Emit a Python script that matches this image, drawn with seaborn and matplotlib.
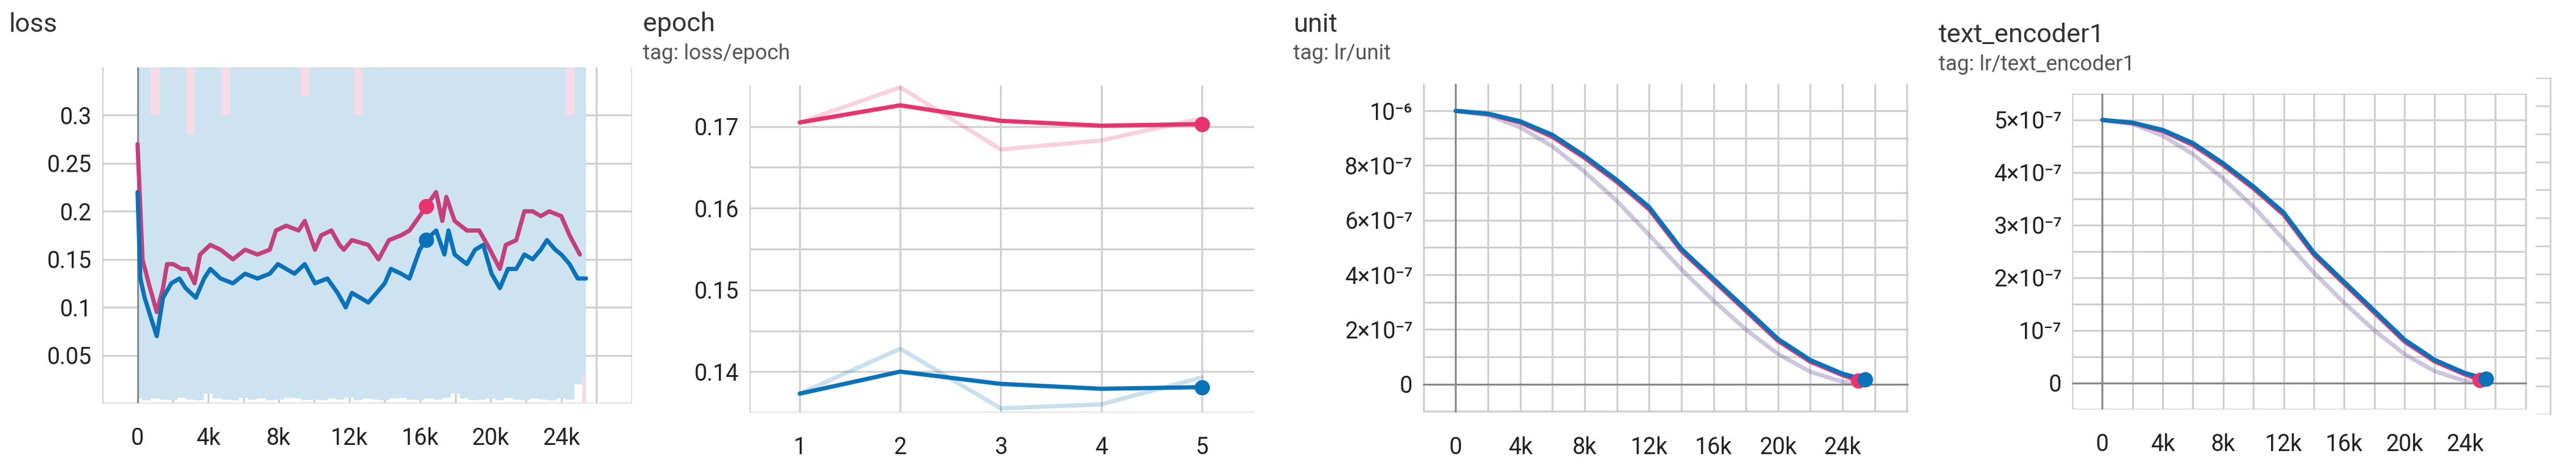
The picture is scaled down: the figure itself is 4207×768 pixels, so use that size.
import matplotlib
matplotlib.use("Agg")
import matplotlib.pyplot as plt
import numpy as np
import seaborn as sns

sns.set_style("white")
plt.rcParams['font.family'] = ['Roboto', 'DejaVu Sans']

PINK = "#e7336e"
BLUE = "#0a72b8"
PINK_LOSS = "#c4407c"
GRID = "#d0d0d0"
ZERO = "#8a8a8a"

# ---- loss panel ----
loss_pink_step = [0, 0.28, 0.63, 1.09, 1.44, 1.67, 2.02, 2.49, 2.84, 3.23, 3.54, 4.12, 4.70, 5.40, 6.09,
                  6.79, 7.49, 7.84, 8.42, 9.12, 9.47, 10.05, 10.40, 10.98, 11.44, 11.68, 12.14, 13.07,
                  13.65, 14.24, 14.93, 15.40, 15.98, 16.33, 16.91, 17.26, 17.49, 17.96, 18.65, 19.35,
                  19.82, 20.52, 20.86, 21.45, 21.91, 22.38, 22.84, 23.31, 24.00, 24.47, 25.05]
loss_pink = [0.27, 0.15, 0.125, 0.095, 0.12, 0.145, 0.145, 0.14, 0.14, 0.125, 0.155, 0.165, 0.16, 0.15,
             0.16, 0.155, 0.16, 0.18, 0.185, 0.18, 0.19, 0.16, 0.175, 0.18, 0.165, 0.16, 0.17, 0.165,
             0.15, 0.17, 0.175, 0.18, 0.195, 0.205, 0.22, 0.19, 0.215, 0.19, 0.18, 0.18, 0.165, 0.14,
             0.165, 0.17, 0.2, 0.2, 0.195, 0.2, 0.195, 0.175, 0.155]
loss_blue_step = [0, 0.16, 0.40, 0.74, 1.09, 1.44, 1.91, 2.37, 2.72, 3.30, 3.77, 4.12, 4.70, 5.40, 6.09,
                  6.79, 7.49, 7.95, 8.42, 8.89, 9.47, 10.05, 10.75, 11.33, 11.79, 12.14, 12.61, 13.07,
                  13.54, 14.00, 14.35, 14.93, 15.40, 15.98, 16.33, 16.91, 17.38, 17.61, 17.96, 18.65,
                  19.12, 19.58, 20.05, 20.52, 20.98, 21.45, 21.91, 22.38, 22.84, 23.19, 23.66, 24.00,
                  24.47, 24.93, 25.40]
loss_blue = [0.22, 0.13, 0.11, 0.09, 0.07, 0.11, 0.125, 0.13, 0.12, 0.11, 0.13, 0.14, 0.13, 0.125, 0.135,
             0.13, 0.135, 0.145, 0.14, 0.135, 0.145, 0.125, 0.13, 0.115, 0.10, 0.115, 0.11, 0.105, 0.115,
             0.125, 0.14, 0.135, 0.13, 0.16, 0.17, 0.18, 0.155, 0.18, 0.155, 0.145, 0.16, 0.165, 0.135,
             0.12, 0.14, 0.14, 0.155, 0.15, 0.16, 0.17, 0.16, 0.155, 0.145, 0.13, 0.13]
raw_step = [0, 0.5, 1, 1.5, 2, 2.5, 3, 3.5, 4, 4.5, 5, 5.5, 6, 6.5, 7, 7.5, 8, 8.5, 9, 9.5, 10, 10.5, 11,
            11.5, 12, 12.5, 13, 13.5, 14, 14.5, 15, 15.5, 16, 16.5, 17, 17.5, 18, 18.5, 19, 19.5, 20,
            20.5, 21, 21.5, 22, 22.5, 23, 23.5, 24, 24.5, 25, 25.4]
raw_blue_top = [0.36, 0.36, 0.30, 0.36, 0.36, 0.36, 0.28, 0.36, 0.36, 0.36, 0.30, 0.36, 0.36, 0.36, 0.36,
                0.36, 0.36, 0.36, 0.36, 0.32, 0.36, 0.36, 0.36, 0.36, 0.36, 0.30, 0.36, 0.36, 0.36, 0.36,
                0.36, 0.36, 0.36, 0.36, 0.36, 0.36, 0.36, 0.36, 0.36, 0.36, 0.36, 0.36, 0.36, 0.36, 0.36,
                0.36, 0.36, 0.36, 0.36, 0.30, 0.36, 0.36]
raw_pink_top = [0.36, 0.36, 0.36, 0.36, 0.36, 0.36, 0.36, 0.36, 0.36, 0.36, 0.36, 0.36, 0.36, 0.36, 0.36,
                0.36, 0.36, 0.36, 0.36, 0.36, 0.36, 0.36, 0.36, 0.36, 0.36, 0.36, 0.36, 0.36, 0.36, 0.36,
                0.36, 0.36, 0.36, 0.36, 0.36, 0.36, 0.36, 0.36, 0.36, 0.36, 0.36, 0.36, 0.36, 0.36, 0.36,
                0.36, 0.36, 0.36, 0.36, 0.36, 0.25, 0.0]
raw_bottom = [0.005, 0.003, 0.005, 0.004, 0.003, 0.006, 0.004, 0.003, 0.01, 0.005, 0.004, 0.003, 0.006,
              0.004, 0.005, 0.003, 0.004, 0.006, 0.005, 0.003, 0.004, 0.003, 0.005, 0.004, 0.006, 0.003,
              0.005, 0.004, 0.003, 0.005, 0.006, 0.004, 0.003, 0.005, 0.004, 0.006, 0.01, 0.005, 0.003,
              0.004, 0.005, 0.003, 0.006, 0.004, 0.003, 0.005, 0.004, 0.003, 0.005, 0.004, 0.02, 0.03]

# ---- epoch panel ----
epochs = [1, 2, 3, 4, 5]
epoch_pink_raw = [0.1705, 0.1748, 0.1672, 0.1683, 0.1710]
epoch_pink = [0.1705, 0.1726, 0.1707, 0.1701, 0.1703]
epoch_blue_raw = [0.1373, 0.1428, 0.1355, 0.1360, 0.1393]
epoch_blue = [0.1373, 0.1400, 0.1385, 0.1379, 0.1381]

# ---- lr panels (unit in 1e-6; text_encoder1 is the same schedule at half peak, in 1e-7) ----
lr_step = [0, 2, 4, 6, 8, 10, 12, 14, 16, 18, 20, 22, 24, 25.0]
lr_raw = [1.0, 0.985, 0.94, 0.87, 0.777, 0.67, 0.546, 0.42, 0.305, 0.20, 0.11, 0.045, 0.008, 0.002]
lr_blue_step = [0, 2, 4, 6, 8, 10, 12, 14, 16, 18, 20, 22, 24, 25.4]
lr_blue = [1.0, 0.99, 0.962, 0.912, 0.835, 0.747, 0.648, 0.495, 0.385, 0.275, 0.165, 0.088, 0.038, 0.016]
lr_pink = [1.0, 0.988, 0.958, 0.905, 0.828, 0.740, 0.640, 0.488, 0.378, 0.268, 0.158, 0.082, 0.033, 0.012]

step_ticks = [-2, 0, 2, 4, 6, 8, 10, 12, 14, 16, 18, 20, 22, 24, 26, 28]
step_labels = ["", "0", "", "4k", "", "8k", "", "12k", "", "16k", "", "20k", "", "24k", "", ""]
unit_ticks = [-0.1, 0, 0.1, 0.2, 0.3, 0.4, 0.5, 0.6, 0.7, 0.8, 0.9, 1.0]
unit_labels = ["", "0", "", "2×10⁻⁷", "", "4×10⁻⁷", "", "6×10⁻⁷", "", "8×10⁻⁷", "", "10⁻⁶"]
te_ticks = [-0.5, 0, 0.5, 1, 1.5, 2, 2.5, 3, 3.5, 4, 4.5, 5, 5.5]
te_labels = ["", "0", "", "10⁻⁷", "", "2×10⁻⁷", "", "3×10⁻⁷", "", "4×10⁻⁷", "", "5×10⁻⁷", ""]

W, H = 4207, 768
fig = plt.figure(figsize=(W / 100, H / 100), dpi=100)
LW = 5
MS = 17


def add_ax(x0, y0, x1, y1):
    return fig.add_axes([x0 / W, 1 - y1 / H, (x1 - x0) / W, (y1 - y0) / H])


def style(ax, xticks, xlabels, yticks, ylabels):
    for s in ax.spines.values():
        s.set_visible(False)
    ax.set_xticks(xticks)
    ax.set_xticklabels(xlabels)
    ax.set_yticks(yticks)
    ax.set_yticklabels(ylabels)
    ax.grid(True, color=GRID, linewidth=2.2)
    ax.set_axisbelow(True)
    ax.tick_params(axis="x", length=14, width=2, color=GRID, labelsize=27, pad=14, labelcolor="#222222")
    ax.tick_params(axis="y", length=0, labelsize=27, pad=12, labelcolor="#222222")
    ax.set_facecolor("white")


# loss
ax1 = add_ax(167, 110, 1032, 659)
ax1.set_xlim(-1.9, 27.5)
ax1.set_ylim(0, 0.35)
style(ax1, step_ticks, step_labels, [0, 0.05, 0.1, 0.15, 0.2, 0.25, 0.3],
      ["", "0.05", "0.1", "0.15", "0.2", "0.25", "0.3"])
ax1.fill_between(raw_step, raw_bottom, raw_pink_top, step="mid", color="#f5dbe6", lw=0)
ax1.fill_between(raw_step, raw_bottom, raw_blue_top, step="mid", color="#cde3f1", lw=0)
ax1.axvline(0, color=ZERO, lw=2.2)
sns.lineplot(x=loss_pink_step, y=loss_pink, ax=ax1, color=PINK_LOSS, lw=LW)
sns.lineplot(x=loss_blue_step, y=loss_blue, ax=ax1, color=BLUE, lw=LW)
ax1.plot([16.33], [0.205], "o", color=PINK, ms=MS)
ax1.plot([16.33], [0.17], "o", color=BLUE, ms=MS)
fig.text(15 / W, 1 - 40 / H, "loss", fontsize=31, color="#333333", va="center")

# epoch
ax2 = add_ax(1224, 140, 2048, 674)
ax2.set_xlim(0.5, 5.52)
ax2.set_ylim(0.135, 0.175)
style(ax2, [0.5, 1, 2, 3, 4, 5], ["", "1", "2", "3", "4", "5"],
      [0.135, 0.14, 0.145, 0.15, 0.155, 0.16, 0.165, 0.17],
      ["", "0.14", "", "0.15", "", "0.16", "", "0.17"])
sns.lineplot(x=epochs, y=epoch_pink_raw, ax=ax2, color=PINK, alpha=0.22, lw=LW)
sns.lineplot(x=epochs, y=epoch_blue_raw, ax=ax2, color=BLUE, alpha=0.22, lw=LW)
sns.lineplot(x=epochs, y=epoch_pink, ax=ax2, color=PINK, lw=LW)
sns.lineplot(x=epochs, y=epoch_blue, ax=ax2, color=BLUE, lw=LW)
ax2.plot([5], [epoch_pink[-1]], "o", color=PINK, ms=MS)
ax2.plot([5], [epoch_blue[-1]], "o", color=BLUE, ms=MS)
fig.text(1050 / W, 1 - 40 / H, "epoch", fontsize=31, color="#333333", va="center")
fig.text(1050 / W, 1 - 88 / H, "tag: loss/epoch", fontsize=25, color="#555555", va="center")

# unit
ax3 = add_ax(2324, 137, 3117, 674)
ax3.set_xlim(-2.03, 28.1)
ax3.set_ylim(-0.104, 1.099)
style(ax3, step_ticks, step_labels, unit_ticks, unit_labels)
ax3.axvline(0, color=ZERO, lw=2.2)
ax3.axhline(0, color=ZERO, lw=2.2)
sns.lineplot(x=lr_step, y=lr_raw, ax=ax3, color=PINK, alpha=0.18, lw=LW)
sns.lineplot(x=lr_blue_step, y=lr_raw, ax=ax3, color=BLUE, alpha=0.18, lw=LW)
sns.lineplot(x=lr_step, y=lr_pink, ax=ax3, color=PINK, lw=LW)
sns.lineplot(x=lr_blue_step, y=lr_blue, ax=ax3, color=BLUE, lw=LW)
ax3.plot([lr_step[-1]], [lr_pink[-1]], "o", color=PINK, ms=MS)
ax3.plot([lr_blue_step[-1]], [lr_blue[-1]], "o", color=BLUE, ms=MS)
fig.text(2112 / W, 1 - 40 / H, "unit", fontsize=31, color="#333333", va="center")
fig.text(2112 / W, 1 - 88 / H, "tag: lr/unit", fontsize=25, color="#555555", va="center")

# text_encoder1
ax4 = add_ax(3384, 153, 4127, 669)
ax4.set_xlim(-2.0, 28.1)
ax4.set_ylim(-0.5, 5.5)
style(ax4, step_ticks, step_labels, te_ticks, te_labels)
ax4.axvline(0, color=ZERO, lw=2.2)
ax4.axhline(0, color=ZERO, lw=2.2)
sns.lineplot(x=lr_step, y=[v * 5 for v in lr_raw], ax=ax4, color=PINK, alpha=0.18, lw=LW)
sns.lineplot(x=lr_blue_step, y=[v * 5 for v in lr_raw], ax=ax4, color=BLUE, alpha=0.18, lw=LW)
sns.lineplot(x=lr_step, y=[v * 5 for v in lr_pink], ax=ax4, color=PINK, lw=LW)
sns.lineplot(x=lr_blue_step, y=[v * 5 for v in lr_blue], ax=ax4, color=BLUE, lw=LW)
ax4.plot([lr_step[-1]], [lr_pink[-1] * 5], "o", color=PINK, ms=MS)
ax4.plot([lr_blue_step[-1]], [lr_blue[-1] * 5], "o", color=BLUE, ms=MS)
fig.text(3166 / W, 1 - 58 / H, "text_encoder1", fontsize=31, color="#333333", va="center")
fig.text(3166 / W, 1 - 106 / H, "tag: lr/text_encoder1", fontsize=25, color="#555555", va="center")

# sliver of the next chart at the right edge
ax5 = add_ax(4141, 127, 4165, 677)
for s in ax5.spines.values():
    s.set_visible(False)
ax5.spines["right"].set_visible(True)
ax5.spines["right"].set_color(GRID)
ax5.spines["right"].set_linewidth(2)
ax5.set_xticks([])
ax5.set_yticks(np.linspace(0, 1, 13))
ax5.set_yticklabels([])
ax5.tick_params(axis="y", length=0)
ax5.grid(True, axis="y", color=GRID, linewidth=2)

fig.savefig("out.png", dpi=100, facecolor="white")
